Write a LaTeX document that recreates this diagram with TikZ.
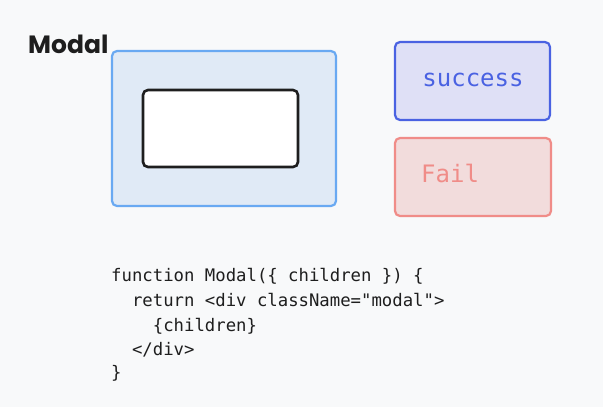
\documentclass[tikz,border=0pt]{standalone}
\usepackage{fontspec}
\setmonofont{DejaVu Sans Mono}
\newfontfamily\handfont{Poppins}
\begin{document}
\begin{tikzpicture}[x=1pt,y=-1pt,
  box/.style={rounded corners=5pt, line width=2.2pt},
  code/.style={anchor=base west, inner sep=0pt, font=\ttfamily\fontsize{17.3}{19}\selectfont, text=codec},
  lbl/.style={inner sep=0pt, font=\ttfamily\fontsize{24}{27}\selectfont}]
\definecolor{bg}{HTML}{F8F9FA}
\definecolor{codec}{HTML}{1E1E1E}
\definecolor{outerfill}{HTML}{E0EAF6}
\definecolor{outerline}{HTML}{69A9F2}
\definecolor{sfill}{HTML}{DFE0F6}
\definecolor{sline}{HTML}{4A62E2}
\definecolor{ffill}{HTML}{F2DCDC}
\definecolor{fline}{HTML}{F08C88}
\fill[bg] (0,0) rectangle (603,407);
\useasboundingbox (0,0) rectangle (603,407);
\node[anchor=base west, inner sep=0pt, text=codec, font=\handfont\bfseries\fontsize{25}{28}\selectfont] (title) at (28,53) {Modal};
\draw[box, draw=outerline, fill=outerfill] (112,51) rectangle (336,206);
\node[box, draw=codec, fill=white, line width=2.6pt, minimum width=155pt, minimum height=77pt, inner sep=0pt] (inner) at (220.5,128.5) {};
\node[box, draw=sline, fill=sfill, minimum width=155pt, minimum height=78pt, inner sep=0pt] (succ) at (472.5,81) {};
\node[lbl, text=sline, anchor=base] (stxt) at (473,86) {success};
\node[box, draw=fline, fill=ffill, minimum width=156pt, minimum height=78pt, inner sep=0pt] (fail) at (473,177) {};
\node[lbl, text=fline, anchor=base west] (ftxt) at (421,182) {Fail};
\node[code] (c1) at (111,281) {function Modal(\{ children \}) \{};
\node[code] (c2) at (111,306) {\ \ return <div className="modal">};
\node[code] (c3) at (111,331) {\ \ \ \ \{children\}};
\node[code] (c4) at (111,355) {\ \ </div>};
\node[code] (c5) at (111,378) {\}};
\end{tikzpicture}
\end{document}
